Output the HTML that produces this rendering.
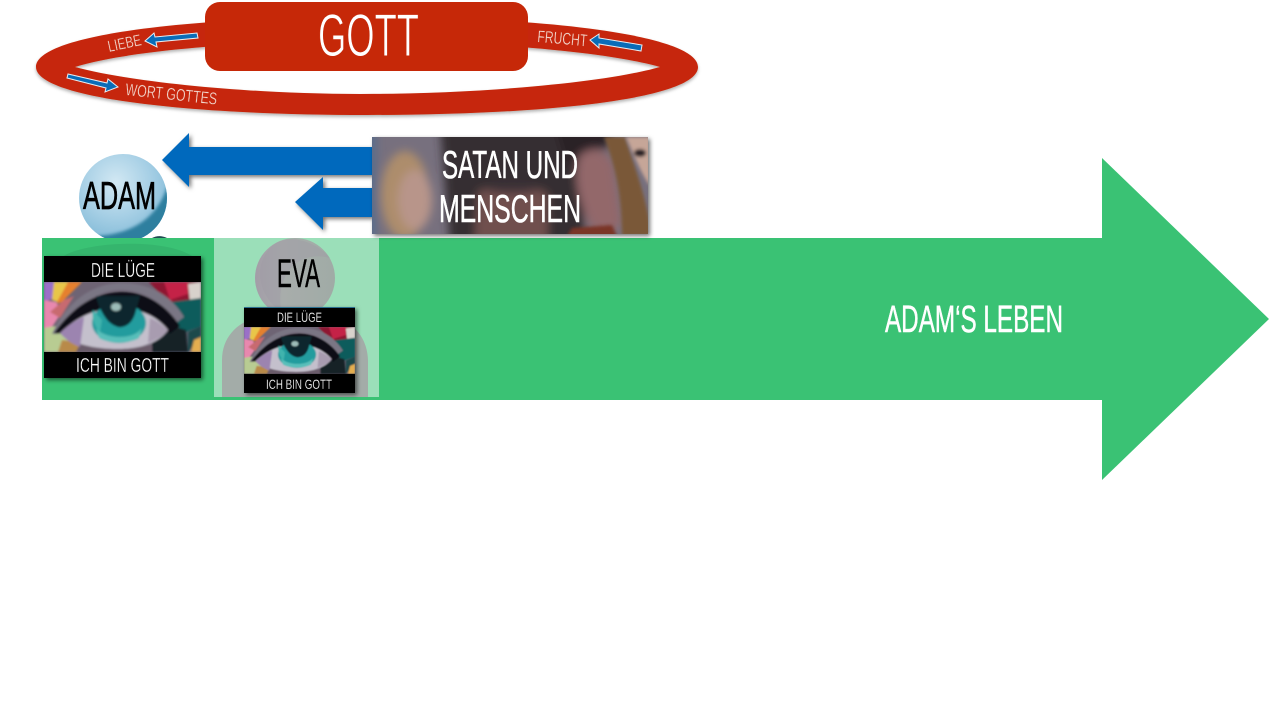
<!DOCTYPE html>
<html><head><meta charset="utf-8"><style>
html,body{margin:0;padding:0;background:#fff;width:1280px;height:720px;overflow:hidden}
svg{display:block}
text{font-family:"Liberation Sans",sans-serif}
</style></head><body>
<svg width="1280" height="720" viewBox="0 0 1280 720" xmlns="http://www.w3.org/2000/svg">
<defs>
<filter id="sh" x="-10%" y="-10%" width="125%" height="125%"><feDropShadow dx="2" dy="2" stdDeviation="2" flood-color="#000" flood-opacity=".55"/></filter>
<filter id="sh2" x="-10%" y="-20%" width="120%" height="140%"><feDropShadow dx="0" dy="2" stdDeviation="1.5" flood-color="#000" flood-opacity=".3"/></filter>
<filter id="b05" x="-5%" y="-5%" width="110%" height="110%"><feGaussianBlur stdDeviation="1"/></filter>
<filter id="b1" x="-30%" y="-30%" width="160%" height="160%"><feGaussianBlur stdDeviation="1.5"/></filter>
<filter id="b5" x="-30%" y="-30%" width="160%" height="160%"><feGaussianBlur stdDeviation="4.500"/></filter>
<radialGradient id="sph" cx=".42" cy=".32" r=".72"><stop offset="0" stop-color="#d2e8f3"/><stop offset=".55" stop-color="#a6cfe5"/><stop offset=".85" stop-color="#8cc0db"/><stop offset="1" stop-color="#6aa8c8"/></radialGradient>
<linearGradient id="head" x1="0" y1="0" x2="1" y2="0"><stop offset="0" stop-color="#a39da8"/><stop offset=".35" stop-color="#a8adab"/><stop offset="1" stop-color="#a0aba6"/></linearGradient>
<clipPath id="eyeclip"><rect width="157" height="70"/></clipPath>
<clipPath id="photo"><rect x="372" y="137" width="276" height="97"/></clipPath>
<clipPath id="sphc"><circle cx="123" cy="198" r="44"/></clipPath>
<g id="eye" clip-path="url(#eyeclip)">
 <rect width="157" height="70" fill="#6e6474"/>
 <g filter="url(#b05)">
  <path d="M0 0h14l-4 16L0 20z" fill="#9a70c8"/>
  <path d="M10 0h18L14 20l-6-2z" fill="#e8c648"/>
  <path d="M24 0h14L18 20l-6 2z" fill="#e5802e"/>
  <path d="M0 18l12 2 6 10-12 18H0z" fill="#e888ae"/>
  <path d="M6 30l14-12 10-4-14 22z" fill="#c86a70"/>
  <path d="M0 46l12-2 14 14-8 12H0z" fill="#b8cc92"/>
  <path d="M18 58l16 2 8 10H14z" fill="#b88a48"/>
  <path d="M36 62l44 4 40-4 10 8H32z" fill="#6a5c6a"/>
  <path d="M105 0h52v16l-30 8z" fill="#8e1830"/>
  <path d="M120 0h24v12l-18 6z" fill="#c42446"/>
  <path d="M144 2l13-2v18l-11 2z" fill="#d8d2cc"/>
  <path d="M128 20l29-4v28l-20 8z" fill="#0c5c5c"/>
  <path d="M108 38l34 10 2 22h-36z" fill="#122428"/>
  <path d="M144 50l13-6v12l-13 14z" fill="#1c4a4c"/>
  <path d="M150 58l7-3v15h-10z" fill="#e4ae50"/>
  <path d="M8 52C22 22 46 1 78 1c30 0 50 14 62 34l-8 6C118 18 96 8 76 8 50 8 30 30 14 52z" fill="#7a7684"/>
  <path d="M10 51C30 24 50 11 76 10c24-1 46 12 60 34l-10 8c-12-16-30-26-50-26C50 26 34 38 20 52z" fill="#101116"/>
  <path d="M16 51C34 34 52 26 76 26c20 0 38 9 48 22-8 12-26 19-50 19-24 0-46-5-58-16z" fill="#c4c0cc"/>
  <path d="M16 51c8-7 14-12 24-16l-4 30c-8-3-15-8-20-14z" fill="#9c84b0"/>
  <path d="M106 36c8 3 13 8 18 12-4 6-12 10-20 13z" fill="#a89cb0"/>
  <ellipse cx="75" cy="41" rx="27" ry="20" fill="#229c9e"/>
  <path d="M52 46c8 11 37 13 46 0l-3 10c-10 6-30 6-40 0z" fill="#58bfba"/>
  <path d="M52 14h44l-5 18c-3 9-8 12-13 13-4 1-10-2-14-6-5-6-10-15-12-25z" fill="#0c262e"/>
  <path d="M49 28l9 10-2 12c-5-5-9-14-7-22z" fill="#3fb3ad"/>
  <ellipse cx="72" cy="25" rx="5" ry="4" fill="#9cbcb8"/>
 </g>
</g>
</defs>

<!-- God ring -->
<path fill-rule="evenodd" filter="url(#sh2)" fill="#c62808" d="M36 67C36 36 180 17 367 17S698 36 698 67 554 115 367 115 36 97 36 67ZM75 67C130 82 250 94 360 94 470 94 600 84 660 67 600 50 470 41 360 41 250 41 130 50 75 67Z"/>
<rect x="205" y="2" width="323" height="69" rx="15" fill="#c62808"/>
<text x="318" y="56" font-size="60" fill="#fff" stroke="#c62808" stroke-width=".9" textLength="101" lengthAdjust="spacingAndGlyphs">GOTT</text>
<text transform="translate(109 52) rotate(-12)" font-size="16" fill="#f2d8d0" stroke="#c62808" stroke-width=".25" textLength="34" lengthAdjust="spacingAndGlyphs">LIEBE</text>
<text transform="translate(125 95) rotate(6)" font-size="17" fill="#f2d8d0" stroke="#c62808" stroke-width=".25" textLength="92" lengthAdjust="spacingAndGlyphs">WORT GOTTES</text>
<text transform="translate(537 42) rotate(5)" font-size="17" fill="#f2d8d0" stroke="#c62808" stroke-width=".25" textLength="50" lengthAdjust="spacingAndGlyphs">FRUCHT</text>
<g fill="#0a6cb8" stroke="#e8eef2" stroke-width="1">
 <path d="M145 41l9-8 1 4 42-4 1 5-42 4 1 5z"/>
 <path d="M590 40l9-6v4l43 7-1 6-42-7v4z"/>
 <path d="M118 87l-10-8-1 4-39-9-1 4 39 10-1 4z"/>
</g>

<!-- Adam sphere behind green -->
<circle cx="123" cy="198" r="44" fill="url(#sph)"/>
<g clip-path="url(#sphc)"><path d="M171 165C168 208 142 233 98 236L100 248 175 242Z" fill="#2f7f9f" filter="url(#b1)"/></g>
<path d="M152 238c4-2 9-3 15 0z" fill="#1f4a50"/>

<!-- Green arrow -->
<path d="M42 238H1102V158L1269 319 1102 480V400H42Z" fill="#3ac274"/>
<rect x="214" y="238" width="165" height="159" fill="#9bdfb9"/>
<path d="M62 257C85 241 165 238 192 256Z" fill="#35b56d"/>

<!-- Blue arrows -->
<g filter="url(#sh)" fill="#0569bd">
 <path d="M162 160L189 133V147H372V175H189V187Z"/>
 <path d="M295 202L323 177V188H372V217H323V230Z"/>
</g>

<text x="83" y="209" font-size="39" fill="#000" stroke="#000" stroke-width=".7" textLength="73" lengthAdjust="spacingAndGlyphs">ADAM</text>

<!-- Card 1 -->
<g filter="url(#sh)"><rect x="44" y="256" width="157" height="122" fill="#000"/></g>
<use href="#eye" x="44" y="282"/>
<text x="91" y="277" font-size="20" fill="#fff" stroke="#000" stroke-width=".3" textLength="64" lengthAdjust="spacingAndGlyphs">DIE LÜGE</text>
<text x="76" y="372" font-size="20" fill="#fff" stroke="#000" stroke-width=".3" textLength="93" lengthAdjust="spacingAndGlyphs">ICH BIN GOTT</text>

<!-- Eva -->
<path d="M222 397V360C222 332 245 316 270 316H322C348 316 368 334 368 362V397Z" fill="#a3aca8"/>
<circle cx="295" cy="278" r="40" fill="url(#head)"/>
<path d="M272 246C287 233 315 240 330 258 302 250 275 270 281 311 262 300 250 268 272 246Z" fill="#a09ba5" opacity=".5"/>
<text x="277" y="287" font-size="40" fill="#000" stroke="#000" stroke-width=".5" textLength="43" lengthAdjust="spacingAndGlyphs">EVA</text>

<!-- Card 2 -->
<g filter="url(#sh)"><rect x="244" y="307" width="111" height="86" fill="#000"/></g>
<rect x="244" y="307" width="111" height="1" fill="#2a6f90"/>
<use href="#eye" transform="translate(244 327) scale(.707 .67)"/>
<text x="277" y="322" font-size="14" fill="#fff" stroke="#000" stroke-width=".2" textLength="45" lengthAdjust="spacingAndGlyphs">DIE LÜGE</text>
<text x="266" y="389" font-size="14" fill="#fff" stroke="#000" stroke-width=".2" textLength="66" lengthAdjust="spacingAndGlyphs">ICH BIN GOTT</text>

<!-- Satan box -->
<g filter="url(#sh)"><rect x="372" y="137" width="276" height="97" fill="#726c7c"/></g>
<g clip-path="url(#photo)">
 <rect x="372" y="137" width="276" height="97" fill="#77707e"/>
 <g filter="url(#b5)">
  <rect x="366" y="130" width="10" height="110" fill="#566c8c"/>
  <path d="M440 125H580L585 245H450Z" fill="#342d32"/>
  <ellipse cx="405" cy="195" rx="24" ry="44" fill="#ad8d6c"/>
  <ellipse cx="415" cy="200" rx="17" ry="30" fill="#b8958a"/>
  <path d="M478 192C495 182 530 182 548 194V245H474Z" fill="#6f504e"/>
  <ellipse cx="512" cy="188" rx="26" ry="5" fill="#3c3238"/>
  <path d="M580 155C592 145 606 148 614 165L622 225C610 235 596 236 590 225 578 200 572 175 580 155Z" fill="#93686a"/>
  <path d="M555 128H615L606 150C590 146 575 154 568 170Z" fill="#2a2326"/>
 </g>
 <g filter="url(#b1)">
  <path d="M604 137H625C632 160 645 190 652 236H622C622 195 615 165 604 137Z" fill="#7a5838"/>
  <path d="M626 137H650V186C640 172 632 150 626 137Z" fill="#c6a698"/>
  <ellipse cx="640" cy="153" rx="6" ry="4" fill="#2c2426"/>
  <path d="M572 228L612 225 618 238H566Z" fill="#7a3428"/>
 </g>
</g>
<text x="442" y="178" font-size="39" fill="#fff" stroke="#fff" stroke-width=".6" textLength="136" lengthAdjust="spacingAndGlyphs">SATAN UND</text>
<text x="439" y="222" font-size="39" fill="#fff" stroke="#fff" stroke-width=".6" textLength="142" lengthAdjust="spacingAndGlyphs">MENSCHEN</text>

<text x="885" y="332" font-size="38" fill="#fff" stroke="#fff" stroke-width=".5" textLength="178" lengthAdjust="spacingAndGlyphs">ADAM‘S LEBEN</text>
</svg>
</body></html>
